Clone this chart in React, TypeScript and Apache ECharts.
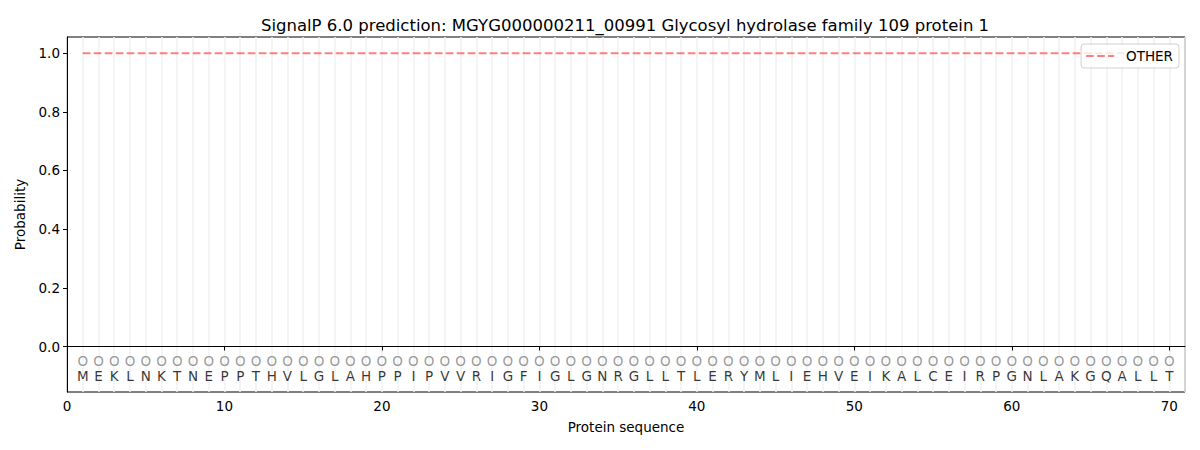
import React, { useEffect, useRef } from "react";
import * as echarts from "echarts";

const TITLE = "SignalP 6.0 prediction: MGYG000000211_00991 Glycosyl hydrolase family 109 protein 1";
const sequence = [
  "M","E","K","L","N","K","T","N","E","P",
  "P","T","H","V","L","G","L","A","H","P",
  "P","I","P","V","V","R","I","G","F","I",
  "G","L","G","N","R","G","L","L","T","L",
  "E","R","Y","M","L","I","E","H","V","E",
  "I","K","A","L","C","E","I","R","P","G",
  "N","L","A","K","G","Q","A","L","L","T",
];
const otherProb = [
  1.0, 1.0, 1.0, 1.0, 1.0, 1.0, 1.0, 1.0, 1.0, 1.0,
  1.0, 1.0, 1.0, 1.0, 1.0, 1.0, 1.0, 1.0, 1.0, 1.0,
  1.0, 1.0, 1.0, 1.0, 1.0, 1.0, 1.0, 1.0, 1.0, 1.0,
  1.0, 1.0, 1.0, 1.0, 1.0, 1.0, 1.0, 1.0, 1.0, 1.0,
  1.0, 1.0, 1.0, 1.0, 1.0, 1.0, 1.0, 1.0, 1.0, 1.0,
  1.0, 1.0, 1.0, 1.0, 1.0, 1.0, 1.0, 1.0, 1.0, 1.0,
  1.0, 1.0, 1.0, 1.0, 1.0, 1.0, 1.0, 1.0, 1.0, 1.0,
];
const xTicks = [0, 10, 20, 30, 40, 50, 60, 70];
const yTicks = [0, 0.2, 0.4, 0.6, 0.8, 1.0];
const circleY = -0.05;
const letterY = -0.1;

const FONT = "DejaVu Sans";
const RED = "rgba(255,0,0,0.5)";

export default function App() {
  const ref = useRef<HTMLDivElement>(null);
  useEffect(() => {
    document.body.style.margin = "0";
    const chart = echarts.init(ref.current!, null, { renderer: "svg" });
    const positions = sequence.map((_, i) => i + 1);
    chart.setOption({
      animation: false,
      backgroundColor: "#ffffff",
      textStyle: { fontFamily: FONT },
      title: {
        text: TITLE,
        left: 620,
        top: 12,
        textAlign: "center",
        textStyle: { fontFamily: FONT, fontSize: 16.5, fontWeight: "normal", color: "#000" },
      },
      legend: {
        right: 21,
        top: 44,
        z: 20,
        orient: "vertical",
        itemWidth: 28,
        itemHeight: 10,
        itemGap: 8,
        padding: [5, 6, 5, 4],
        borderColor: "#d0d0d0",
        borderWidth: 1,
        borderRadius: 3,
        backgroundColor: "rgba(255,255,255,0.8)",
        itemStyle: { color: "transparent", borderWidth: 0, opacity: 0 },
        lineStyle: { color: RED, width: 2, type: [7.7, 3.3] },
        textStyle: { fontFamily: FONT, fontSize: 13.5, color: "#000", padding: [0, 0, 0, 7] },
        data: ["OTHER"],
      },
      grid: {
        left: 67,
        right: 15,
        top: 37,
        bottom: 58,
        show: true,
        borderColor: "#000",
        borderWidth: 1,
        backgroundColor: "transparent",
      },
      xAxis: [
        {
          type: "value",
          min: 0,
          max: 71,
          name: "Protein sequence",
          nameLocation: "middle",
          nameGap: 28,
          nameTextStyle: { fontFamily: FONT, fontSize: 13.5, color: "#000" },
          axisLine: { show: true, lineStyle: { color: "#000", width: 1 } },
          axisTick: { show: true, length: 4, customValues: xTicks, lineStyle: { color: "#000" } },
          axisLabel: {
            customValues: xTicks,
            margin: 7,
            fontFamily: FONT,
            fontSize: 13.5,
            color: "#000",
          },
          splitLine: { show: false },
        },
        {
          type: "value",
          min: 0,
          max: 71,
          interval: 1,
          position: "bottom",
          axisLine: { show: false },
          axisTick: { show: false },
          axisLabel: { show: false },
          splitLine: { show: true, lineStyle: { color: "#f0f0f0", width: 1.5 } },
        },
      ],
      yAxis: {
        type: "value",
        min: -0.155,
        max: 1.055,
        name: "Probability",
        nameLocation: "middle",
        nameGap: 40,
        nameTextStyle: { fontFamily: FONT, fontSize: 13.5, color: "#000" },
        axisLine: { show: true, lineStyle: { color: "#000", width: 1 } },
        axisTick: { show: true, length: 4, customValues: yTicks, lineStyle: { color: "#000" } },
        axisLabel: {
          customValues: yTicks,
          margin: 7,
          fontFamily: FONT,
          fontSize: 13.5,
          color: "#000",
          formatter: (v: number) => v.toFixed(1),
        },
        splitLine: { show: false },
      },
      series: [
        {
          name: "OTHER",
          type: "line",
          xAxisIndex: 0,
          data: positions.map((p, i) => [p, otherProb[i]]),
          symbol: "none",
          lineStyle: { color: RED, width: 2, type: [7.7, 3.3] },
          itemStyle: { color: RED },
          z: 2,
        },
        {
          name: "circles",
          type: "scatter",
          xAxisIndex: 0,
          data: positions.map((p) => [p, circleY]),
          symbolSize: 1,
          itemStyle: { color: "transparent" },
          label: {
            show: true,
            position: "inside",
            formatter: () => "O",
            fontFamily: FONT,
            fontSize: 13.5,
            color: "#808080",
          },
          silent: true,
        },
        {
          name: "letters",
          type: "scatter",
          xAxisIndex: 0,
          data: positions.map((p, i) => [p, letterY, sequence[i]]),
          symbolSize: 1,
          itemStyle: { color: "transparent" },
          label: {
            show: true,
            position: "inside",
            formatter: (params: any) => params.data[2],
            fontFamily: FONT,
            fontSize: 13.5,
            color: "#000",
          },
          silent: true,
        },
      ],
    });
    return () => chart.dispose();
  }, []);
  return <div ref={ref} style={{ width: 1200, height: 450 }} />;
}
